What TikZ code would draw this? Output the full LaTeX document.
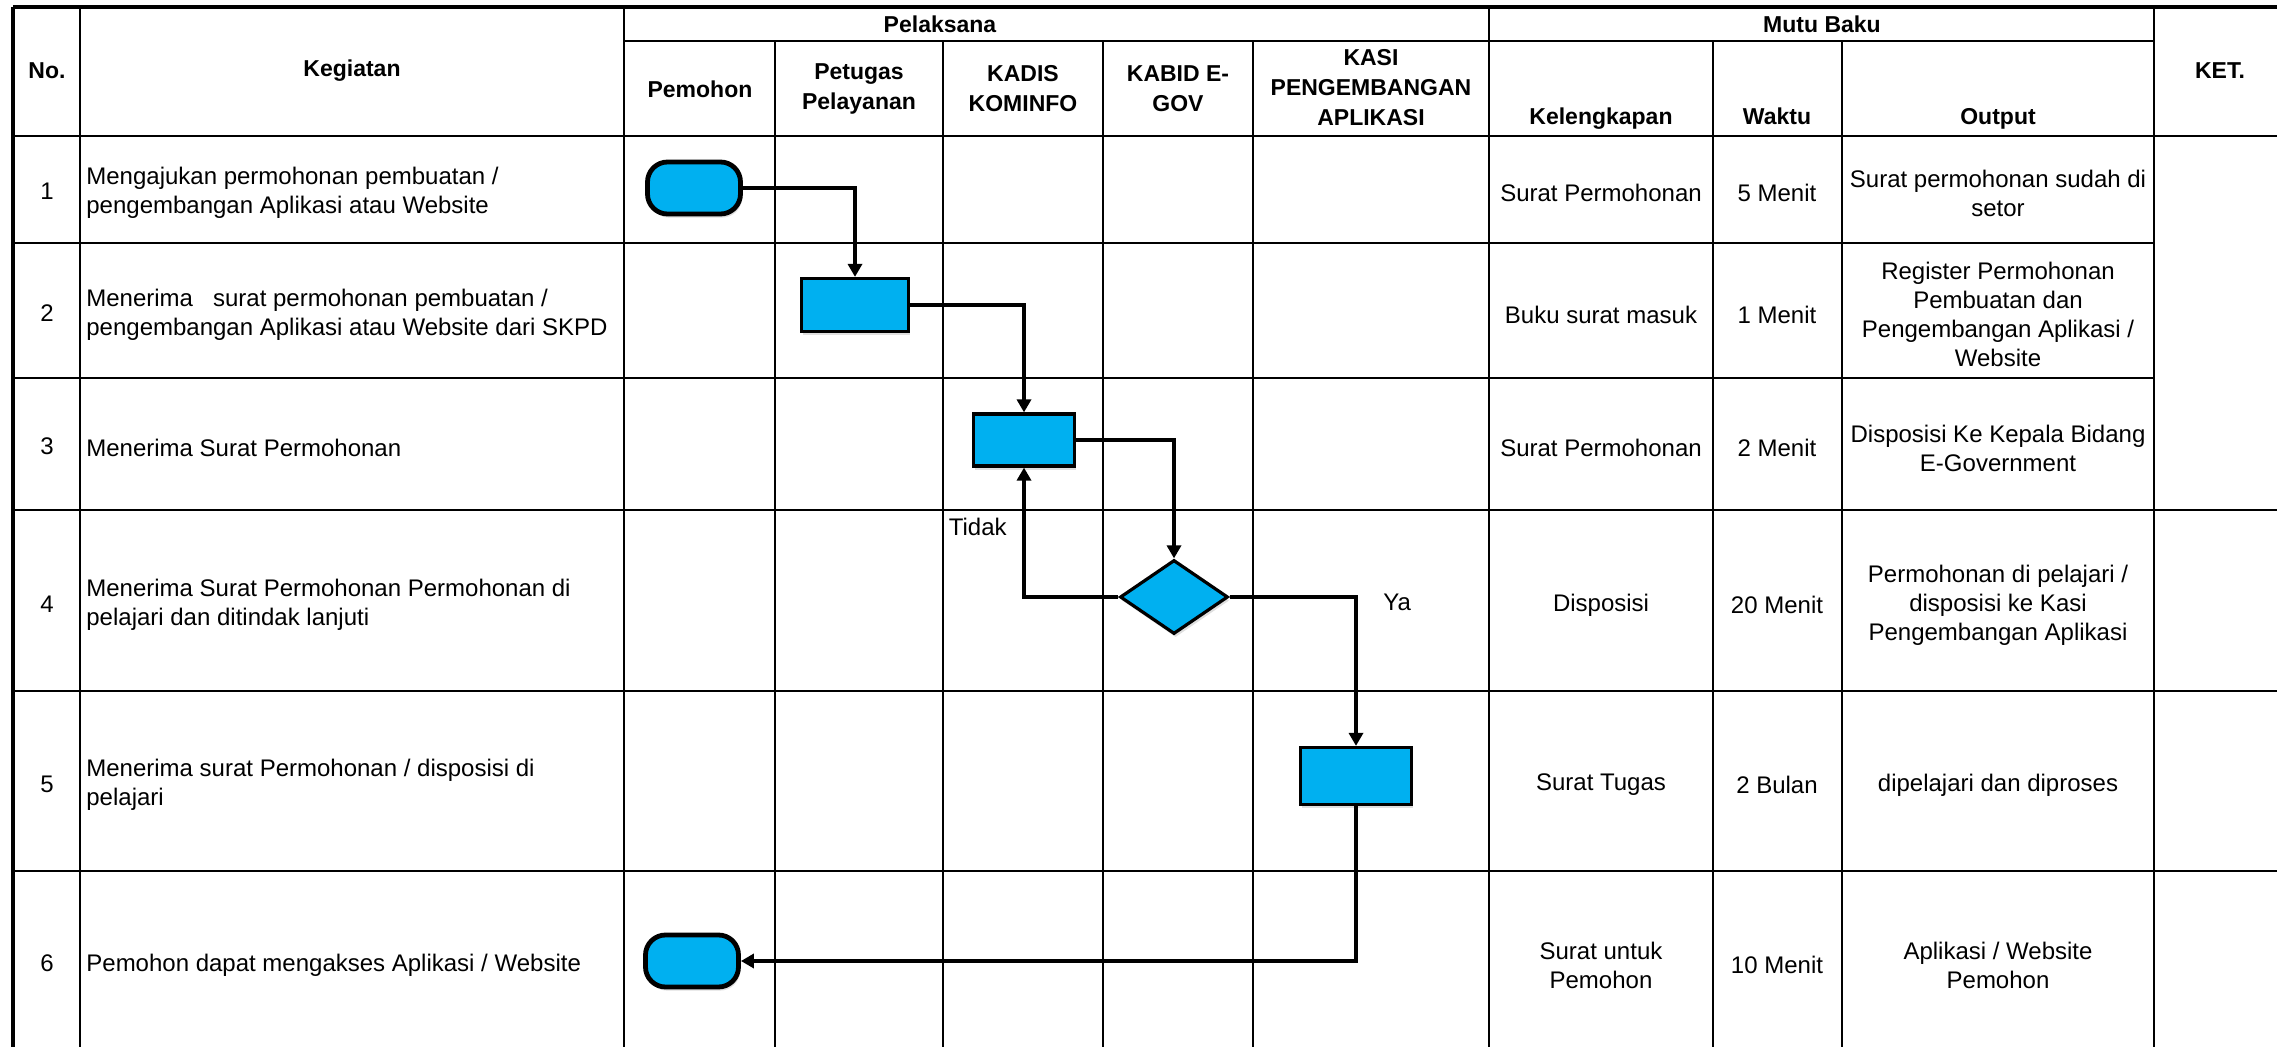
\documentclass[tikz,border=0pt]{standalone}
\usepackage{fontspec}
\setmainfont{Liberation Sans}
\usepackage{tikz}
\usetikzlibrary{positioning,arrows.meta,shapes.geometric,shadows}
\definecolor{flowblue}{RGB}{0,176,240}

\begin{document}
\begin{tikzpicture}[x=0.5pt, y=-0.5pt, >={Triangle[length=6.5pt,width=7pt]},
  grid/.style={line width=1.4pt},
  rim/.style={line width=2.4pt},
  hdr/.style={font=\fontsize{11.5}{15}\selectfont\bfseries, align=center, inner sep=0pt},
  cell/.style={font=\fontsize{12}{14.5}\selectfont, align=center, inner sep=0pt},
  kegtxt/.style={font=\fontsize{12}{14.5}\selectfont, align=left, anchor=west, inner sep=0pt},
  shade/.style={drop shadow={shadow xshift=0.8pt, shadow yshift=-1.8pt, opacity=0.25}},
  proses/.style={draw, line width=1.6pt, fill=flowblue, inner sep=0pt, shade},
  terminal/.style={draw, line width=2.4pt, fill=flowblue, rounded corners=10pt,
    minimum width=46.5pt, minimum height=26pt, inner sep=0pt, shade},
  keputusan/.style={draw, diamond, line width=1.6pt, fill=flowblue, inner sep=0pt,
    minimum width=54pt, minimum height=37pt, shade},
  alur/.style={->, line width=1.7pt}]

\useasboundingbox (0,0) rectangle (2277,1047);

% ---------------- table grid ----------------
\draw[rim] (13,7) -- (2277,7);
\draw[rim] (13,7) -- (13,1047);
\draw[grid] (624,41) -- (2154,41);
\draw[grid] (13,136) -- (2277,136);
\draw[grid] (13,243) -- (2154,243);
\draw[grid] (13,378) -- (2154,378);
\draw[grid] (13,510) -- (2277,510);
\draw[grid] (13,691) -- (2277,691);
\draw[grid] (13,871) -- (2277,871);

\draw[grid] (80,7) -- (80,1047);
\draw[grid] (624,7) -- (624,1047);
\draw[grid] (775,41) -- (775,1047);
\draw[grid] (943,41) -- (943,1047);
\draw[grid] (1103,41) -- (1103,1047);
\draw[grid] (1253,41) -- (1253,1047);
\draw[grid] (1489,7) -- (1489,1047);
\draw[grid] (1713,41) -- (1713,1047);
\draw[grid] (1842,41) -- (1842,1047);
\draw[grid] (2154,7) -- (2154,1047);

% ---------------- header ----------------
\node[hdr] (hNo) at (47,71) {No.};
\node[hdr] (hKeg) at (352,71) {Kegiatan};
\node[hdr] (hPel) at (940,24) {Pelaksana};
\node[hdr] (hMutu) at (1822,24) {Mutu Baku};
\node[hdr] (hKet) at (2220,71) {KET.};
\node[hdr] (hPemohon) at (700,89) {Pemohon};
\node[hdr] (hPetugas) at (859,89) {Petugas\\Pelayanan};
\node[hdr] (hKadis) at (1023,89) {KADIS\\KOMINFO};
\node[hdr] (hKabid) at (1178,89) {KABID E-\\GOV};
\node[hdr] (hKasi) at (1371,88) {KASI\\PENGEMBANGAN\\APLIKASI};
\node[hdr, anchor=base] (hKel) at (1601,125) {Kelengkapan};
\node[hdr, anchor=base] (hWaktu) at (1777,125) {Waktu};
\node[hdr, anchor=base] (hOut) at (1998,125) {Output};

% ---------------- rows ----------------
\node[cell] (no1) at (47,191) {1};
\node[cell] (no2) at (47,313) {2};
\node[cell] (no3) at (47,446) {3};
\node[cell] (no4) at (47,604) {4};
\node[cell] (no5) at (47,784) {5};
\node[cell] (no6) at (47,963) {6};

\node[kegtxt] (keg1) at (86,193) {Mengajukan permohonan pembuatan /\\pengembangan Aplikasi atau Website};
\node[kegtxt] (keg2) at (86,315) {Menerima\ \ \ surat permohonan pembuatan /\\pengembangan Aplikasi atau Website dari SKPD};
\node[kegtxt] (keg3) at (86,448) {Menerima Surat Permohonan};
\node[kegtxt] (keg4) at (86,605) {Menerima Surat Permohonan Permohonan di\\pelajari dan ditindak lanjuti};
\node[kegtxt] (keg5) at (86,785) {Menerima surat Permohonan / disposisi di\\pelajari};
\node[kegtxt] (keg6) at (86,965) {Pemohon dapat mengakses Aplikasi / Website};

\node[cell] (kel1) at (1601,193) {Surat Permohonan};
\node[cell] (kel2) at (1601,315) {Buku surat masuk};
\node[cell] (kel3) at (1601,448) {Surat Permohonan};
\node[cell] (kel4) at (1601,605) {Disposisi};
\node[cell] (kel5) at (1601,785) {Surat Tugas};
\node[cell] (kel6) at (1601,965) {Surat untuk\\Pemohon};

\node[cell] (wkt1) at (1777,193) {5 Menit};
\node[cell] (wkt2) at (1777,315) {1 Menit};
\node[cell] (wkt3) at (1777,448) {2 Menit};
\node[cell] (wkt4) at (1777,605) {20 Menit};
\node[cell] (wkt5) at (1777,785) {2 Bulan};
\node[cell] (wkt6) at (1777,965) {10 Menit};

\node[cell] (out1) at (1998,193) {Surat permohonan sudah di\\setor};
\node[cell] (out2) at (1998,314) {Register Permohonan\\Pembuatan dan\\Pengembangan Aplikasi /\\Website};
\node[cell] (out3) at (1998,448) {Disposisi Ke Kepala Bidang\\E-Government};
\node[cell] (out4) at (1998,605) {Permohonan di pelajari /\\disposisi ke Kasi\\Pengembangan Aplikasi};
\node[cell] (out5) at (1998,785) {dipelajari dan diproses};
\node[cell] (out6) at (1998,965) {Aplikasi / Website\\Pemohon};

% ---------------- flow ----------------
\node[terminal] (mulai) at (694,188) {};
\node[proses, minimum width=53.5pt, minimum height=26.5pt] (terima) at (855,305) {};
\node[proses, minimum width=50.5pt, minimum height=26pt] (kadis) at (1024,440) {};
\node[keputusan] (kabid) at (1174,597) {};
\node[proses, minimum width=55.5pt, minimum height=28.5pt] (kasi) at (1356,776) {};
\node[terminal] (selesai) at (692,961) {};

\draw[alur] (mulai.east) -| (terima.north);
\draw[alur] (terima.east) -| (kadis.north);
\draw[alur] (kadis.east) -| (kabid.north);
\draw[alur] (kabid.west) -| (kadis.south);
\draw[alur] (kabid.east) -| (kasi.north);
\draw[alur, line width=2.2pt] (kasi.south) |- (selesai.east);

\node[cell, anchor=east] (tidak) at (1007,527) {Tidak};
\node[cell, anchor=west] (ya) at (1383,602) {Ya};

\end{tikzpicture}
\end{document}
